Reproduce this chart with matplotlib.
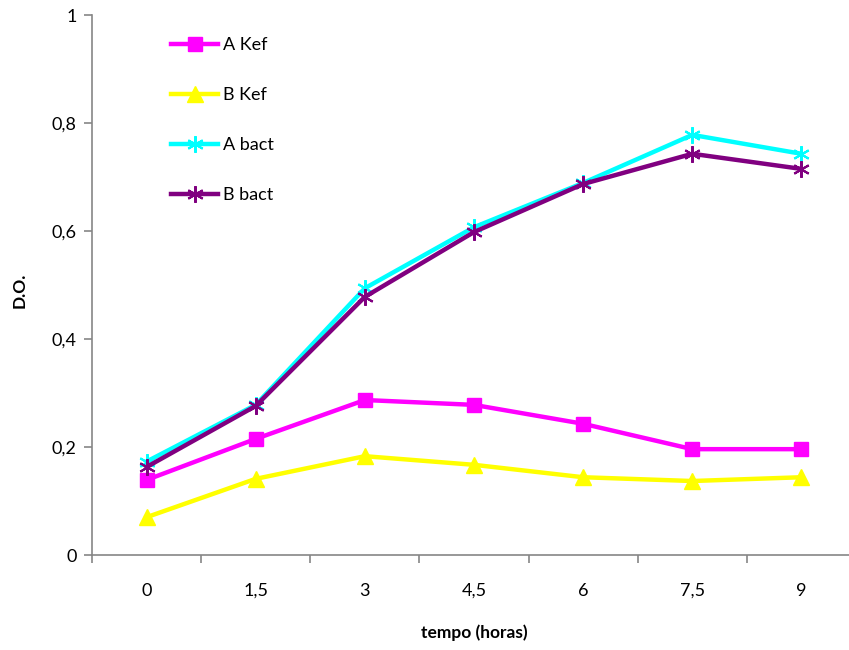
import matplotlib.pyplot as plt
import numpy as np

plt.rcParams['font.family'] = ['Lato', 'DejaVu Sans']

tempo = ['0', '1,5', '3', '4,5', '6', '7,5', '9']
a_kef = [0.139, 0.215, 0.287, 0.278, 0.243, 0.196, 0.196]
b_kef = [0.070, 0.141, 0.183, 0.167, 0.144, 0.137, 0.144]
a_bact = [0.173, 0.278, 0.494, 0.607, 0.689, 0.778, 0.743]
b_bact = [0.163, 0.276, 0.478, 0.598, 0.687, 0.743, 0.715]

fig = plt.figure(figsize=(8.49, 6.5), dpi=100)
ax = fig.add_axes([92/849, 95/650, 764/849, 540/650])

x = np.arange(len(tempo))
star = (6, 2, 0)
ax.plot(x, a_kef, color='#ff00ff', lw=3.2, marker='s', ms=10.5, label='A Kef')
ax.plot(x, b_kef, color='#ffff00', lw=3.2, marker='^', ms=11, label='B Kef')
ax.plot(x, a_bact, color='#00ffff', lw=3.2, marker=star, ms=12, mew=1.5, label='A bact')
ax.plot(x, b_bact, color='#800080', lw=3.2, marker=star, ms=12, mew=1.5, label='B bact')

ax.set_xlim(-0.5, len(tempo) - 0.5)
ax.set_ylim(0, 1)
ax.set_yticks([0, 0.2, 0.4, 0.6, 0.8, 1.0])
ax.set_yticklabels(['0', '0,2', '0,4', '0,6', '0,8', '1'])
ax.set_xticks(x)
ax.set_xticklabels(tempo)
ax.set_xticks(np.arange(-0.5, len(tempo)), minor=True)
ax.tick_params(axis='x', which='major', length=0, pad=20, labelsize=13)
ax.tick_params(axis='x', which='minor', length=6, color='#868686', width=1.2)
ax.tick_params(axis='y', length=6, color='#868686', width=1.2, labelsize=13, pad=5)

for s in ['top', 'right']:
    ax.spines[s].set_visible(False)
for s in ['left', 'bottom']:
    ax.spines[s].set_color('#868686')
    ax.spines[s].set_linewidth(1.2)

fig.text(20/849, 1 - 290/650, 'D.O.', rotation=90, ha='center', va='center',
         fontsize=12.5, fontweight='bold')
fig.text(474/849, 1 - 633/650, 'tempo (horas)', ha='center', va='center',
         fontsize=12.5, fontweight='bold')

ax.legend(loc='upper left', bbox_to_anchor=(155/849, 1 - 21/650),
          bbox_transform=fig.transFigure, frameon=False, fontsize=13,
          handlelength=2.6, labelspacing=1.88, handletextpad=0.25)

plt.savefig('out.png')
